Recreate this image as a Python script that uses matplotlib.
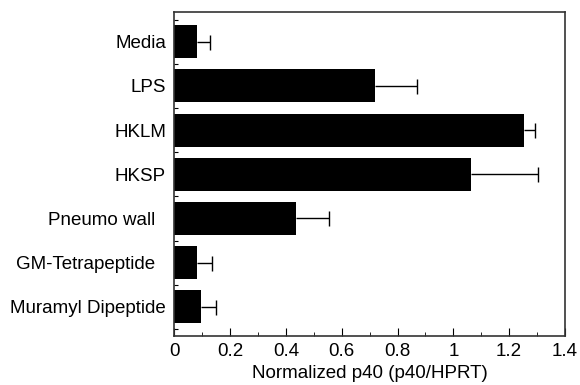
import numpy as np
import matplotlib
matplotlib.use("Agg")
import matplotlib.pyplot as plt
from matplotlib.ticker import MultipleLocator, FixedLocator

plt.rcParams['font.family'] = ['Liberation Sans', 'DejaVu Sans']

categories = ["Media", "LPS", "HKLM", "HKSP", "Pneumo wall  ", "GM-Tetrapeptide  ", "Muramyl Dipeptide"]
values = [0.082, 0.72, 1.253, 1.062, 0.435, 0.08, 0.094]
errors = [0.045, 0.149, 0.039, 0.242, 0.118, 0.055, 0.055]
xticks = [0, 0.2, 0.4, 0.6, 0.8, 1.0, 1.2, 1.4]
xticklabels = ["0", "0.2", "0.4", "0.6", "0.8", "1", "1.2", "1.4"]

fig = plt.figure(figsize=(5.8, 3.85), dpi=100)
ax = fig.add_axes([174.3 / 580, 1 - 336 / 385, (565 - 174.3) / 580, (336 - 11.7) / 385])

y = np.arange(len(categories))
vals = np.array(values)
errs = np.array(errors)
ax.barh(y, vals, height=0.75, color="black", edgecolor="black", linewidth=0)
# one-sided error bars: line from bar end plus a cap only at the far end
ax.hlines(y, vals, vals + errs, color="black", linewidth=1)
ax.plot(vals + errs, y, linestyle="none", marker="|", markersize=10.8,
        markeredgewidth=1, color="black")

ax.set_ylim(6.66, -0.68)
ax.set_xlim(0, 1.4)
ax.set_yticks(y)
ax.set_yticklabels(categories, fontsize=13.5)
ax.yaxis.set_minor_locator(FixedLocator(np.arange(-0.5, 6.6, 1)))
ax.tick_params(axis="y", which="major", length=0, pad=6)
ax.tick_params(axis="y", which="minor", direction="in", length=3, width=0.8)

ax.set_xticks(xticks)
ax.set_xticklabels(xticklabels, fontsize=13.5)
ax.xaxis.set_minor_locator(MultipleLocator(0.1))
ax.tick_params(axis="x", which="major", direction="in", length=6, width=0.8, pad=5)
ax.tick_params(axis="x", which="minor", direction="in", length=3, width=0.6)
ax.set_xlabel("Normalized p40 (p40/HPRT)", fontsize=13.5, labelpad=4)

for s in ax.spines.values():
    s.set_color("#333333")
    s.set_linewidth(1.2)

plt.savefig("out.png", dpi=100)
